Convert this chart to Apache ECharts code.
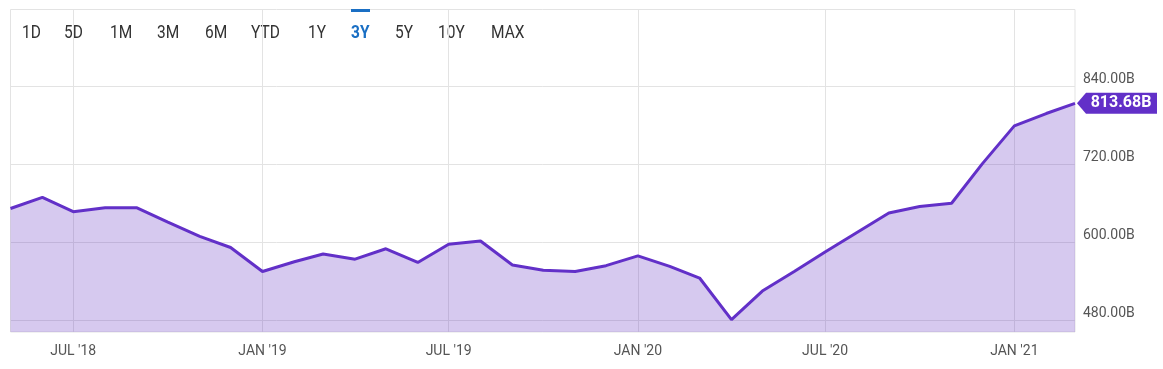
<!DOCTYPE html>
<html><head><meta charset="utf-8">
<script src="https://cdn.jsdelivr.net/npm/echarts@6/dist/echarts.min.js"></script>
<style>html,body{margin:0;padding:0;background:#fff}#c{width:1163px;height:369px}</style>
</head><body><div id="c"></div>
<script>
// ---- data ----
const months = ['2018-05','2018-06','2018-07','2018-08','2018-09','2018-10','2018-11','2018-12',
  '2019-01','2019-02','2019-03','2019-04','2019-05','2019-06','2019-07','2019-08','2019-09','2019-10','2019-11','2019-12',
  '2020-01','2020-02','2020-03','2020-04','2020-05','2020-06','2020-07','2020-08','2020-09','2020-10','2020-11','2020-12',
  '2021-01','2021-02','2021-03'];
const values = [652, 669, 647, 653, 653, 631, 609, 592,
  555, 570, 582, 574, 590, 569, 597, 602, 565, 557, 555, 564,
  579, 563, 545, 481, 525, 555, 585, 615, 645, 655, 660, 721,
  779, 798, 813.68];
const yTicks = [480, 600, 720, 840];
const xTicks = ['2018-07','2019-01','2019-07','2020-01','2020-07','2021-01'];
const xTickLabels = ["JUL '18", "JAN '19", "JUL '19", "JAN '20", "JUL '20", "JAN '21"];
const ranges = ['1D','5D','1M','3M','6M','YTD','1Y','3Y','5Y','10Y','MAX'];
const activeRange = '3Y';

// ---- build ----
function ts(s){ const p = s.split('-'); return Date.UTC(+p[0], +p[1]-1, 1); }
const seriesData = months.map((m, i) => [ts(m), values[i]]);
const xTickTs = xTicks.map(ts);
const last = seriesData[seriesData.length - 1];

const rangeX = [22, 64, 110, 157, 205, 251, 308, 351, 395, 438, 491];
const LINE = '#6230c8';
const graphics = ranges.map((r, i) => ({
  type: 'text', left: rangeX[i], top: 24, scaleX: 0.86,
  style: {
    text: r, fontSize: 18, fontFamily: 'Roboto',
    fontWeight: r === activeRange ? 'bold' : 'normal',
    fill: r === activeRange ? '#1a6fc4' : '#333'
  }
}));
const ai = ranges.indexOf(activeRange);
graphics.push({ type: 'rect', shape: { x: rangeX[ai], y: 9, width: 19, height: 3 }, style: { fill: '#1a6fc4' } });

const chart = echarts.init(document.getElementById('c'), null, { renderer: 'canvas' });
chart.setOption({
  animation: false,
  backgroundColor: '#fff',
  grid: { left: 10.5, right: 88, top: 9.5, bottom: 37, show: true, borderColor: '#e3e3e3', borderWidth: 1, outerBoundsMode: 'none' },
  xAxis: {
    type: 'value', min: seriesData[0][0], max: last[0],
    axisLine: { show: false },
    axisTick: { show: false, customValues: xTickTs },
    axisLabel: {
      customValues: xTickTs, margin: 12, color: '#555', fontSize: 14, fontFamily: 'Roboto',
      formatter: v => { const i = xTickTs.indexOf(v); return i >= 0 ? xTickLabels[i] : ''; }
    },
    splitLine: { show: true, lineStyle: { color: '#e3e3e3', width: 1 } }
  },
  yAxis: {
    type: 'value', position: 'right', min: 462, max: 958,
    axisLine: { show: false },
    axisTick: { show: false, customValues: yTicks },
    axisLabel: {
      customValues: yTicks, margin: 8, color: '#555', fontSize: 14, fontFamily: 'Roboto',
      verticalAlign: 'bottom', formatter: v => v.toFixed(2) + 'B'
    },
    splitLine: { show: true, lineStyle: { color: '#e3e3e3', width: 1 } }
  },
  graphic: graphics,
  series: [{
    type: 'line', data: seriesData, showSymbol: false, smooth: false,
    lineStyle: { color: LINE, width: 3 },
    itemStyle: { color: LINE },
    areaStyle: { color: 'rgba(104,56,196,0.27)', opacity: 1 },
    markPoint: {
      symbol: 'path://M0,10.5 L9,0 L80,0 L80,21 L9,21 Z',
      symbolSize: [80, 21], symbolOffset: [42, 0], symbolKeepAspect: false,
      itemStyle: { color: LINE },
      label: {
        show: true, position: 'inside', offset: [4, 0], color: '#fff',
        fontSize: 16, fontWeight: 'bold', fontFamily: 'Roboto',
        formatter: p => Number(p.value).toFixed(2) + 'B'
      },
      data: [{ coord: last, value: last[1] }]
    }
  }]
});
</script></body></html>
